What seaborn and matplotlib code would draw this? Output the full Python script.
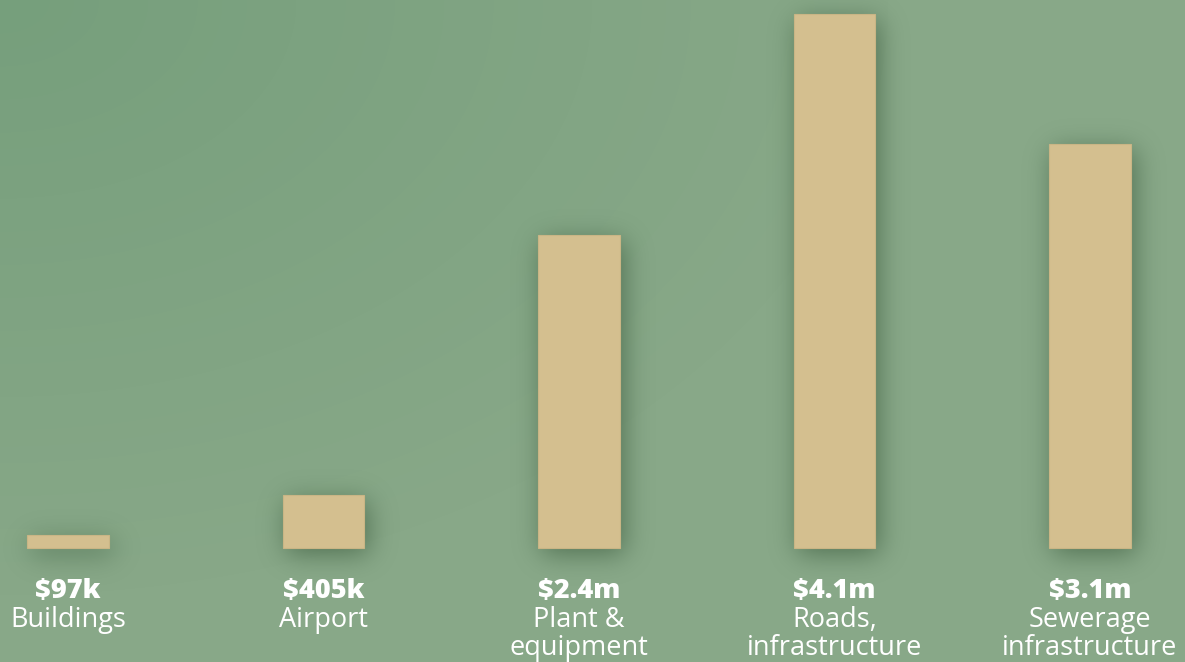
import numpy as np
import pandas as pd
import matplotlib
matplotlib.use("Agg")
import matplotlib.pyplot as plt
import seaborn as sns

# ---- data ----
categories = ["Buildings", "Airport", "Plant &\nequipment", "Roads,\ninfrastructure", "Sewerage\ninfrastructure"]
amounts = [97e3, 405e3, 2.4e6, 4.1e6, 3.1e6]
value_labels = ["$97k", "$405k", "$2.4m", "$4.1m", "$3.1m"]

BAR_COLOR = "#d4bf8f"
TEXT_COLOR = "#ffffff"

sns.set_theme(style="white")
plt.rcParams["font.family"] = ["Open Sans", "DejaVu Sans"]

W, H, DPI = 1185, 662, 100
fig = plt.figure(figsize=(W / DPI, H / DPI), dpi=DPI)

# background gradient
bg = fig.add_axes([0, 0, 1, 1], zorder=0)
yy, xx = np.mgrid[0:1:H * 1j, 0:1:W * 1j]
d = np.sqrt((xx * 1.2) ** 2 + (yy * 1.0) ** 2)
t = np.clip(d / 0.9, 0, 1)
c0 = np.array([0x76, 0x9f, 0x7c]) / 255.0
c1 = np.array([0x88, 0xa8, 0x88]) / 255.0
img = c0[None, None, :] * (1 - t[..., None]) + c1[None, None, :] * t[..., None]
bg.imshow(img, extent=[0, 1, 1, 0], aspect="auto", origin="upper", zorder=0)
bg.set_xlim(0, 1)
bg.set_ylim(1, 0)
bg.set_axis_off()

ax = fig.add_axes([0, 0, 1, 1], zorder=1)
ax.patch.set_alpha(0)

df = pd.DataFrame({"category": categories, "amount": amounts})
sns.barplot(data=df, x="category", y="amount", color=BAR_COLOR, saturation=1,
            width=0.32, ax=ax, zorder=3, edgecolor="#c9b585", linewidth=0.8)

px_per_unit = 534 / 4.1e6
base_px = 662 - 548
ax.set_ylim(-base_px / px_per_unit, (H - base_px) / px_per_unit)
x_step = 255.5
ax.set_xlim(-68 / x_step, -68 / x_step + W / x_step)
ax.set_axis_off()

# soft blurred shadows computed from the drawn bars
fig.canvas.draw()
mask = np.zeros((H, W))
for p in ax.patches:
    bb = p.get_window_extent()
    x0, x1 = int(round(bb.x0)), int(round(bb.x1))
    r0, r1 = int(round(H - bb.y1)), int(round(H - bb.y0))
    mask[max(r0, 0):min(r1, H), max(x0, 0):min(x1, W)] = 1.0

def gblur(a, sigma):
    r = int(3 * sigma)
    k = np.exp(-0.5 * (np.arange(-r, r + 1) / sigma) ** 2)
    k /= k.sum()
    a = np.apply_along_axis(lambda m: np.convolve(m, k, mode="same"), 1, a)
    a = np.apply_along_axis(lambda m: np.convolve(m, k, mode="same"), 0, a)
    return a

dx, dy = 4, 6
shifted = np.zeros_like(mask)
shifted[dy:, dx:] = mask[:-dy, :-dx]
sh = gblur(shifted, 13)
shadow = np.zeros((H, W, 4))
shadow[..., :3] = np.array([0x3a, 0x5a, 0x3c]) / 255.0
shadow[..., 3] = np.clip(sh * 0.7, 0, 0.5)
bg.imshow(shadow, extent=[0, 1, 1, 0], aspect="auto", origin="upper", zorder=1)

# labels below bars (baselines in pixels from top)
xt = ax.get_xaxis_transform()
for i, (cat, val) in enumerate(zip(categories, value_labels)):
    ax.text(i, 1 - 598 / H, val, transform=xt, ha="center", va="baseline",
            fontsize=19.5, fontweight="heavy", color=TEXT_COLOR)
    for j, line in enumerate(cat.split("\n")):
        ax.text(i, 1 - (627 + 28 * j) / H, line, transform=xt, ha="center",
                va="baseline", fontsize=19.5, color=TEXT_COLOR)

fig.savefig("out.png", dpi=DPI)
